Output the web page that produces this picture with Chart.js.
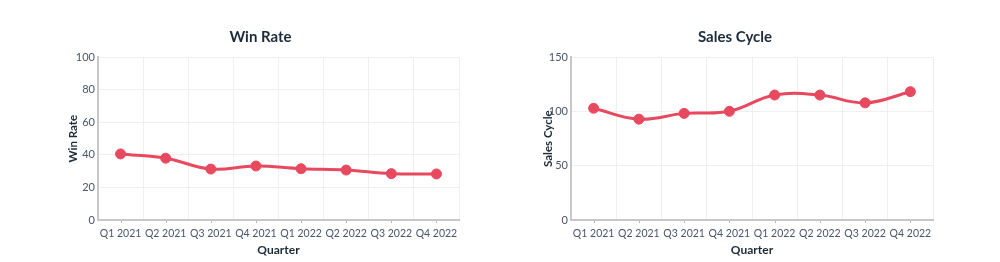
<!DOCTYPE html>
<html>
<head>
<meta charset="utf-8">
<script src="https://cdn.jsdelivr.net/npm/chart.js@4/dist/chart.umd.min.js"></script>
<style>
  html, body { margin: 0; padding: 0; background: #ffffff; }
  body { width: 1000px; height: 262px; position: relative; overflow: hidden; }
  .box { position: absolute; top: 0; width: 500px; height: 262px; }
  #b1 { left: 0; }
  #b2 { left: 500px; }
</style>
</head>
<body>
<div class="box" id="b1"><canvas id="c1" width="500" height="262"></canvas></div>
<div class="box" id="b2"><canvas id="c2" width="500" height="262"></canvas></div>
<script>
const quarters = ["Q1 2021", "Q2 2021", "Q3 2021", "Q4 2021", "Q1 2022", "Q2 2022", "Q3 2022", "Q4 2022"];
const winRate = [40.6, 38, 31.3, 33.2, 31.5, 30.7, 28.5, 28.3];
const salesCycle = [103, 93, 98.3, 100.2, 115.2, 115.2, 108, 118.3];
const winRateTicks = { min: 0, max: 100, step: 20 };
const salesCycleTicks = { min: 0, max: 150, step: 50 };

const FONT = "Lato, 'Open Sans', sans-serif";
const LINE = "#e8495f";
const TICK_COLOR = "#4a5568";
const TITLE_COLOR = "#1c2b3a";

const centerTicks = {
  id: 'centerTicks',
  afterDraw(chart) {
    const ctx = chart.ctx;
    const x = chart.scales.x;
    ctx.save();
    ctx.strokeStyle = "#b8b8b8";
    ctx.lineWidth = 1;
    ctx.beginPath();
    x.ticks.forEach((t, i) => {
      const px = Math.round(x.getPixelForTick(i)) + 0.5;
      ctx.moveTo(px, x.top + 1);
      ctx.lineTo(px, x.top + 3);
    });
    ctx.stroke();
    ctx.restore();
  }
};

function makeChart(id, title, values, tk, pad, yWidth) {
  return new Chart(document.getElementById(id), {
    type: 'line',
    data: {
      labels: quarters,
      datasets: [{
        label: title,
        data: values,
        borderColor: LINE,
        backgroundColor: LINE,
        borderWidth: 3,
        pointRadius: 5,
        pointHoverRadius: 5,
        pointBackgroundColor: LINE,
        pointBorderColor: LINE,
        pointBorderWidth: 1,
        tension: 0.4,
        fill: false
      }]
    },
    options: {
      responsive: false,
      animation: false,
      devicePixelRatio: 1,
      layout: { padding: { left: pad.left, right: pad.right, top: 0, bottom: 0 } },
      plugins: {
        legend: { display: false },
        tooltip: { enabled: false },
        title: {
          display: true,
          text: title,
          color: TITLE_COLOR,
          font: { family: FONT, size: 15, weight: 'bold' },
          padding: { top: 28, bottom: 11.3 }
        }
      },
      scales: {
        x: {
          offset: true,
          afterFit(scale) { scale.height = 42; },
          grid: { offset: true, color: "#efefef", drawTicks: false, tickLength: 3 },
          border: { display: true, color: "#c8c8c8", width: 2 },
          ticks: { color: TICK_COLOR, font: { family: FONT, size: 10.5 }, padding: 7, maxRotation: 0, autoSkip: false },
          title: {
            display: true, text: "Quarter", color: TITLE_COLOR,
            font: { family: FONT, size: 12, weight: 'bold' },
            padding: { top: 0, bottom: 5 }
          }
        },
        y: {
          min: tk.min, max: tk.max,
          afterFit(scale) { scale.width = yWidth; },
          grid: { color: "#efefef", drawTicks: false, tickLength: 3 },
          border: { display: true, color: "#c8c8c8", width: 2 },
          ticks: { stepSize: tk.step, color: TICK_COLOR, font: { family: FONT, size: 11 }, padding: 3 },
          title: {
            display: true, text: title, color: TITLE_COLOR,
            font: { family: FONT, size: 11.5, weight: 'bold' },
            padding: { top: 4, bottom: 0 }
          }
        }
      }
    },
    plugins: [centerTicks]
  });
}

makeChart('c1', 'Win Rate', winRate, winRateTicks, { left: 62, right: 41 }, 36);
makeChart('c2', 'Sales Cycle', salesCycle, salesCycleTicks, { left: 37, right: 67 }, 34);
</script>
</body>
</html>
